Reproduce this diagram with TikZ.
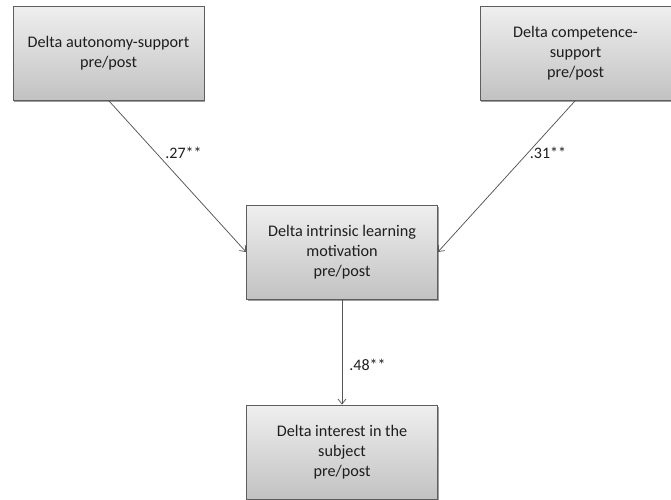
\documentclass[tikz,border=0pt]{standalone}
\usepackage{fontspec}
\setmainfont{Carlito}
\usetikzlibrary{arrows.meta,shadows}
\definecolor{boxtop}{HTML}{EFEFEF}
\definecolor{boxbot}{HTML}{C2C2C2}
\definecolor{boxline}{HTML}{5E5E5E}
\definecolor{arrowc}{HTML}{555555}
\definecolor{txt}{HTML}{1E1E1E}
\begin{document}
\begin{tikzpicture}[x=1pt,y=-1pt,
  varbox/.style={draw=boxline, line width=0.8pt, top color=boxtop, bottom color=boxbot,
    minimum width=191pt, minimum height=94pt, inner sep=0pt, align=center,
    text=txt, font=\fontsize{16.2}{20}\selectfont,
    drop shadow={shadow xshift=1.2pt, shadow yshift=-1.6pt, opacity=0.55, fill=black!70}},
  path/.style={draw=arrowc, line width=0.75pt, -{Straight Barb[length=5pt,width=8pt]}},
  coef/.style={text=txt, font=\fontsize{16}{18}\selectfont, inner sep=0pt}]
\useasboundingbox (0,0) rectangle (671,499);
\node[varbox] (tl) at (108.5,53) {Delta autonomy-support\\pre/post};
\node[varbox] (tr) at (575.5,53) {Delta competence-\\support\\pre/post};
\node[varbox] (mid) at (342,252) {Delta intrinsic learning\\motivation\\pre/post};
\node[varbox] (bot) at (342,452) {Delta interest in the\\subject\\pre/post};
\draw[path] (tl.south) -- (mid.west);
\draw[path] (tr.south) -- (mid.east);
\draw[path] (mid.south) -- (bot.north);
\node[coef] (l1) at (183.5,153) {.27**};
\node[coef] (l2) at (548,153) {.31**};
\node[coef] (l3) at (367.5,365) {.48**};
\end{tikzpicture}
\end{document}
